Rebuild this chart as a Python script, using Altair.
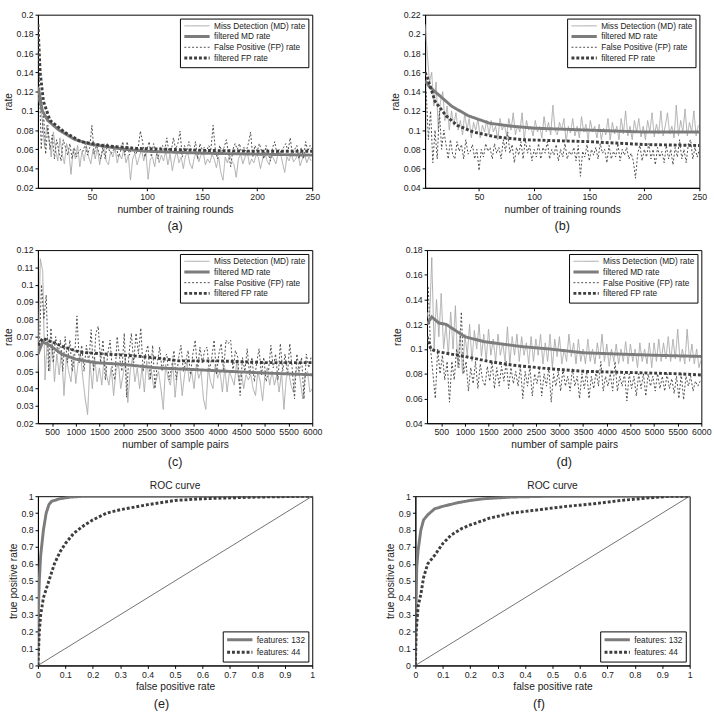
import altair as alt
import pandas as pd

FONT = "Liberation Sans"

# ---------------- series names / styles ----------------
RATE_NAMES = ["Miss Detection (MD) rate", "filtered MD rate",
              "False Positive (FP) rate", "filtered FP rate"]
RATE_COLORS = ["#a9a9a9", "#7c7c7c", "#4a4a4a", "#3e3e3e"]
RATE_WIDTHS = [1, 3, 1, 3]
RATE_DASHES = [[1, 0], [1, 0], [2, 2], [3, 2]]

ROC_NAMES = ["features: 132", "features: 44"]
ROC_COLORS = ["#7c7c7c", "#3e3e3e"]
ROC_WIDTHS = [3, 3]
ROC_DASHES = [[1, 0], [3, 2]]

# ---------------- panel (a) ----------------
a_md_x = list(range(1, 250, 2))
a_md_y = [0.115, 0.105, 0.09, 0.062, 0.085, 0.07, 0.052, 0.078, 0.06, 0.048,
          0.072, 0.055, 0.045, 0.066, 0.058, 0.034, 0.06, 0.05, 0.064, 0.042,
          0.058, 0.048, 0.064, 0.052, 0.045, 0.06, 0.05, 0.062, 0.044, 0.056,
          0.066, 0.048, 0.044, 0.058, 0.052, 0.062, 0.046, 0.055, 0.05, 0.06,
          0.046, 0.054, 0.028, 0.05, 0.056, 0.044, 0.052, 0.06, 0.048, 0.056,
          0.029, 0.05, 0.052, 0.042, 0.058, 0.046, 0.054, 0.048, 0.058, 0.044,
          0.055, 0.038, 0.05, 0.058, 0.046, 0.052, 0.04, 0.054, 0.056, 0.045,
          0.04, 0.052, 0.056, 0.047, 0.054, 0.058, 0.044, 0.05, 0.046, 0.055,
          0.05, 0.041, 0.052, 0.036, 0.028, 0.052, 0.046, 0.054, 0.048, 0.044,
          0.031, 0.05, 0.055, 0.045, 0.052, 0.058, 0.044, 0.05, 0.046, 0.054,
          0.052, 0.04, 0.05, 0.056, 0.048, 0.044, 0.054, 0.05, 0.045, 0.056,
          0.057, 0.046, 0.036, 0.052, 0.048, 0.056, 0.047, 0.05, 0.056, 0.043,
          0.05, 0.055, 0.046, 0.052, 0.048]
a_fp_x = list(range(2, 251, 2))
a_fp_y = [0.14, 0.06, 0.1, 0.055, 0.085, 0.06, 0.075, 0.05, 0.07, 0.058,
          0.048, 0.07, 0.062, 0.054, 0.066, 0.05, 0.062, 0.052, 0.058, 0.06,
          0.058, 0.066, 0.054, 0.062, 0.085, 0.055, 0.064, 0.058, 0.05, 0.062,
          0.05, 0.066, 0.058, 0.056, 0.06, 0.064, 0.052, 0.058, 0.068, 0.054,
          0.068, 0.054, 0.063, 0.058, 0.055, 0.062, 0.079, 0.068, 0.052, 0.06,
          0.068, 0.052, 0.066, 0.058, 0.05, 0.062, 0.064, 0.058, 0.072, 0.056,
          0.058, 0.072, 0.06, 0.066, 0.079, 0.052, 0.064, 0.058, 0.068, 0.06,
          0.056, 0.068, 0.05, 0.066, 0.06, 0.062, 0.058, 0.064, 0.06, 0.085,
          0.06, 0.05, 0.064, 0.058, 0.062, 0.07, 0.056, 0.042, 0.06, 0.066,
          0.06, 0.066, 0.055, 0.062, 0.058, 0.066, 0.078, 0.052, 0.064, 0.058,
          0.066, 0.058, 0.05, 0.064, 0.056, 0.048, 0.062, 0.068, 0.054, 0.06,
          0.056, 0.062, 0.066, 0.058, 0.072, 0.054, 0.06, 0.064, 0.05, 0.062,
          0.05, 0.068, 0.058, 0.064, 0.06]
a_fmd_x = [1, 2, 5, 10, 20, 35, 50, 80, 100, 150, 200, 250]
a_fmd_y = [0.125, 0.12, 0.1, 0.09, 0.08, 0.07, 0.065, 0.06, 0.058, 0.056, 0.055, 0.054]
a_ffp_x = [1, 3, 6, 12, 25, 40, 60, 90, 120, 150, 200, 250]
a_ffp_y = [0.19, 0.14, 0.11, 0.09, 0.078, 0.068, 0.064, 0.061, 0.06, 0.059, 0.058, 0.058]

# ---------------- panel (b) ----------------
b_md_x = list(range(1, 250, 2))
b_md_y = [0.21, 0.18, 0.15, 0.16, 0.125, 0.15, 0.1, 0.13, 0.14, 0.11,
          0.125, 0.1, 0.12, 0.105, 0.118, 0.1, 0.11, 0.095, 0.118, 0.1,
          0.112, 0.092, 0.108, 0.1, 0.112, 0.092, 0.105, 0.098, 0.11, 0.095,
          0.11, 0.098, 0.104, 0.09, 0.112, 0.1, 0.106, 0.094, 0.112, 0.1,
          0.118, 0.095, 0.105, 0.098, 0.118, 0.09, 0.11, 0.1, 0.104, 0.094,
          0.11, 0.098, 0.104, 0.092, 0.114, 0.098, 0.108, 0.095, 0.126, 0.1,
          0.095, 0.108, 0.1, 0.112, 0.088, 0.104, 0.097, 0.112, 0.094, 0.104,
          0.092, 0.114, 0.098, 0.106, 0.09, 0.11, 0.098, 0.104, 0.092, 0.106,
          0.09, 0.102, 0.095, 0.112, 0.09, 0.108, 0.096, 0.104, 0.09, 0.112,
          0.096, 0.12, 0.094, 0.104, 0.09, 0.11, 0.098, 0.112, 0.093, 0.104,
          0.09, 0.11, 0.098, 0.118, 0.093, 0.106, 0.096, 0.12, 0.094, 0.104,
          0.118, 0.096, 0.104, 0.092, 0.126, 0.094, 0.11, 0.098, 0.122, 0.094,
          0.108, 0.098, 0.12, 0.094, 0.105]
b_fp_x = list(range(2, 251, 2))
b_fp_y = [0.14, 0.09, 0.12, 0.066, 0.1, 0.07, 0.12, 0.08, 0.1, 0.085,
          0.07, 0.09, 0.075, 0.07, 0.088, 0.078, 0.085, 0.07, 0.09, 0.075,
          0.078, 0.085, 0.07, 0.08, 0.058, 0.08, 0.072, 0.086, 0.078, 0.082,
          0.07, 0.086, 0.076, 0.082, 0.07, 0.09, 0.078, 0.098, 0.076, 0.085,
          0.066, 0.082, 0.074, 0.088, 0.07, 0.09, 0.076, 0.084, 0.068, 0.08,
          0.072, 0.086, 0.07, 0.082, 0.076, 0.088, 0.07, 0.08, 0.074, 0.085,
          0.068, 0.08, 0.072, 0.086, 0.07, 0.078, 0.074, 0.082, 0.068, 0.084,
          0.052, 0.078, 0.072, 0.085, 0.068, 0.08, 0.074, 0.082, 0.07, 0.086,
          0.076, 0.08, 0.066, 0.084, 0.07, 0.078, 0.072, 0.086, 0.068, 0.08,
          0.074, 0.082, 0.07, 0.076, 0.068, 0.05, 0.076, 0.084, 0.068, 0.08,
          0.072, 0.086, 0.07, 0.08, 0.064, 0.082, 0.072, 0.078, 0.066, 0.084,
          0.07, 0.08, 0.064, 0.082, 0.072, 0.09, 0.07, 0.08, 0.066, 0.086,
          0.09, 0.07, 0.082, 0.072, 0.08]
b_fmd_x = [1, 2, 5, 15, 25, 40, 60, 80, 100, 150, 200, 250]
b_fmd_y = [0.15, 0.15, 0.145, 0.135, 0.125, 0.115, 0.107, 0.104, 0.102, 0.1, 0.098, 0.098]
b_ffp_x = [1, 3, 10, 20, 30, 45, 65, 90, 120, 150, 200, 250]
b_ffp_y = [0.16, 0.155, 0.13, 0.115, 0.105, 0.098, 0.093, 0.09, 0.089, 0.088, 0.085, 0.084]

# ---------------- panel (c) ----------------
c_md_x = list(range(200, 6001, 50))
c_md_y = [0.05, 0.115, 0.108, 0.045, 0.07, 0.05, 0.066, 0.044, 0.06, 0.048,
          0.062, 0.036, 0.058, 0.05, 0.044, 0.06, 0.043, 0.055, 0.06, 0.046,
          0.034, 0.025, 0.055, 0.04, 0.058, 0.044, 0.052, 0.042, 0.058, 0.048,
          0.042, 0.052, 0.036, 0.05, 0.055, 0.04, 0.048, 0.058, 0.032, 0.05,
          0.058, 0.044, 0.052, 0.04, 0.052, 0.038, 0.056, 0.045, 0.05, 0.04,
          0.045, 0.05, 0.04, 0.028, 0.054, 0.046, 0.042, 0.055, 0.035, 0.05,
          0.052, 0.036, 0.048, 0.056, 0.044, 0.05, 0.04, 0.054, 0.046, 0.05,
          0.034, 0.028, 0.052, 0.044, 0.04, 0.054, 0.046, 0.05, 0.038, 0.052,
          0.038, 0.05, 0.046, 0.042, 0.055, 0.044, 0.05, 0.04, 0.048, 0.045,
          0.048, 0.04, 0.036, 0.05, 0.044, 0.033, 0.048, 0.052, 0.042, 0.05,
          0.042, 0.048, 0.038, 0.05, 0.028, 0.046, 0.05, 0.042, 0.038, 0.05,
          0.052, 0.044, 0.034, 0.048, 0.05, 0.038, 0.04]
c_fp_x = list(range(225, 5976, 50))
c_fp_y = [0.06, 0.1, 0.08, 0.094, 0.05, 0.075, 0.055, 0.07, 0.06, 0.068,
          0.05, 0.07, 0.055, 0.068, 0.05, 0.058, 0.082, 0.055, 0.065, 0.05,
          0.065, 0.055, 0.074, 0.05, 0.072, 0.076, 0.055, 0.068, 0.045, 0.06,
          0.068, 0.05, 0.045, 0.07, 0.058, 0.05, 0.072, 0.035, 0.06, 0.072,
          0.055, 0.072, 0.06, 0.075, 0.05, 0.06, 0.065, 0.045, 0.065, 0.04,
          0.055, 0.064, 0.05, 0.058, 0.06, 0.045, 0.052, 0.062, 0.045, 0.058,
          0.065, 0.05, 0.056, 0.062, 0.048, 0.06, 0.068, 0.05, 0.064, 0.055,
          0.062, 0.064, 0.05, 0.058, 0.068, 0.048, 0.06, 0.066, 0.05, 0.068,
          0.066, 0.068, 0.05, 0.062, 0.058, 0.036, 0.058, 0.05, 0.063, 0.048,
          0.058, 0.044, 0.055, 0.063, 0.048, 0.058, 0.044, 0.05, 0.065, 0.052,
          0.06, 0.045, 0.066, 0.05, 0.06, 0.048, 0.066, 0.052, 0.034, 0.06,
          0.05, 0.058, 0.034, 0.06, 0.052, 0.058]
c_fmd_x = [200, 300, 450, 700, 1000, 1400, 2000, 2700, 3500, 4200, 5000, 6000]
c_fmd_y = [0.06, 0.067, 0.065, 0.06, 0.057, 0.055, 0.054, 0.052, 0.051, 0.05, 0.049, 0.048]
c_ffp_x = [200, 300, 500, 750, 1100, 1600, 2200, 2600, 3200, 4000, 5000, 6000]
c_ffp_y = [0.065, 0.069, 0.067, 0.064, 0.061, 0.06, 0.059, 0.058, 0.056, 0.056, 0.055, 0.055]

# ---------------- panel (d) ----------------
d_md_x = list(range(200, 6001, 50))
d_md_y = [0.13, 0.12, 0.174, 0.1, 0.14, 0.11, 0.145, 0.1, 0.12, 0.095,
          0.13, 0.1, 0.135, 0.085, 0.115, 0.08, 0.112, 0.095, 0.12, 0.09,
          0.115, 0.1, 0.12, 0.094, 0.112, 0.09, 0.116, 0.095, 0.108, 0.09,
          0.112, 0.095, 0.105, 0.09, 0.118, 0.088, 0.11, 0.095, 0.112, 0.09,
          0.11, 0.095, 0.105, 0.088, 0.11, 0.09, 0.108, 0.095, 0.112, 0.088,
          0.105, 0.09, 0.112, 0.085, 0.108, 0.094, 0.11, 0.088, 0.1, 0.09,
          0.112, 0.094, 0.105, 0.088, 0.108, 0.09, 0.1, 0.088, 0.108, 0.09,
          0.1, 0.088, 0.105, 0.092, 0.112, 0.09, 0.104, 0.086, 0.1, 0.09,
          0.104, 0.088, 0.1, 0.09, 0.106, 0.088, 0.104, 0.09, 0.1, 0.085,
          0.105, 0.09, 0.1, 0.088, 0.105, 0.085, 0.105, 0.09, 0.108, 0.09,
          0.105, 0.092, 0.11, 0.09, 0.108, 0.092, 0.116, 0.09, 0.1, 0.088,
          0.116, 0.09, 0.104, 0.088, 0.1, 0.085, 0.092]
d_fp_x = list(range(225, 5976, 50))
d_fp_y = [0.15, 0.1, 0.08, 0.06, 0.1, 0.08, 0.095, 0.075, 0.09, 0.057,
          0.09, 0.075, 0.1, 0.085, 0.13, 0.08, 0.09, 0.066, 0.085, 0.072,
          0.09, 0.068, 0.088, 0.075, 0.07, 0.086, 0.074, 0.09, 0.068, 0.085,
          0.07, 0.086, 0.074, 0.09, 0.068, 0.085, 0.072, 0.082, 0.07, 0.086,
          0.06, 0.082, 0.07, 0.086, 0.062, 0.08, 0.072, 0.084, 0.062, 0.08,
          0.07, 0.085, 0.057, 0.08, 0.07, 0.082, 0.066, 0.084, 0.07, 0.078,
          0.066, 0.084, 0.07, 0.078, 0.06, 0.08, 0.068, 0.082, 0.06, 0.078,
          0.068, 0.082, 0.07, 0.09, 0.066, 0.078, 0.07, 0.08, 0.066, 0.09,
          0.066, 0.078, 0.07, 0.08, 0.058, 0.08, 0.068, 0.078, 0.062, 0.08,
          0.068, 0.08, 0.062, 0.08, 0.07, 0.078, 0.066, 0.08, 0.068, 0.078,
          0.066, 0.08, 0.068, 0.076, 0.064, 0.078, 0.06, 0.08, 0.059, 0.078,
          0.07, 0.078, 0.066, 0.074, 0.07, 0.074]
d_fmd_x = [200, 300, 450, 600, 800, 1000, 1400, 1800, 2200, 2800, 3500, 4200, 5000, 6000]
d_fmd_y = [0.12, 0.126, 0.121, 0.12, 0.115, 0.11, 0.106, 0.104, 0.102, 0.1, 0.097, 0.096, 0.095, 0.094]
d_ffp_x = [200, 280, 400, 700, 1000, 1500, 2000, 2800, 3500, 4500, 5500, 6000]
d_ffp_y = [0.11, 0.1, 0.098, 0.096, 0.094, 0.09, 0.087, 0.084, 0.082, 0.081, 0.08, 0.079]

# ---------------- panel (e) ROC ----------------
e132_x = [0, 0.002, 0.005, 0.01, 0.02, 0.03, 0.04, 0.05, 0.08, 0.12, 0.17, 1.0]
e132_y = [0, 0.35, 0.5, 0.65, 0.8, 0.9, 0.95, 0.97, 0.985, 0.995, 1.0, 1.0]
e44_x = [0, 0.005, 0.01, 0.02, 0.04, 0.06, 0.08, 0.1, 0.13, 0.17, 0.2, 0.25,
         0.3, 0.4, 0.5, 0.6, 0.7, 0.8, 1.0]
e44_y = [0, 0.2, 0.3, 0.4, 0.5, 0.6, 0.67, 0.72, 0.78, 0.83, 0.86, 0.9,
         0.92, 0.95, 0.975, 0.985, 0.99, 0.995, 1.0]

# ---------------- panel (f) ROC ----------------
f132_x = [0, 0.002, 0.005, 0.01, 0.02, 0.03, 0.045, 0.07, 0.1, 0.15, 0.2, 0.25, 0.35, 0.5, 1.0]
f132_y = [0, 0.3, 0.58, 0.68, 0.8, 0.86, 0.89, 0.925, 0.94, 0.96, 0.975, 0.985, 0.995, 1.0, 1.0]
f44_x = [0, 0.003, 0.01, 0.02, 0.03, 0.045, 0.07, 0.1, 0.13, 0.17, 0.2, 0.27,
         0.35, 0.45, 0.55, 0.65, 0.75, 0.85, 0.93, 1.0]
f44_y = [0, 0.2, 0.35, 0.42, 0.52, 0.6, 0.65, 0.72, 0.77, 0.81, 0.83, 0.87,
         0.9, 0.92, 0.94, 0.955, 0.975, 0.99, 1.0, 1.0]

diag_x = [0, 1]
diag_y = [0, 1]

PW = 282


def frame(pairs):
    rows = []
    for name, xs, ys in pairs:
        for i, (xv, yv) in enumerate(zip(xs, ys)):
            rows.append({"x": xv, "y": yv, "series": name, "i": i})
    return pd.DataFrame(rows)


def make_legend(orient):
    return alt.Legend(
        title=None, orient=orient, offset=4, padding=3,
        strokeColor="black", fillColor="white",
        symbolType="M-3.25,0H3.25", symbolSize=64, symbolOffset=9,
        labelOffset=12, labelFont=FONT, labelFontSize=8.5, labelColor="#222",
        rowPadding=0, labelLimit=300,
    )


def series_enc(names, colors, widths, dashes, orient):
    leg = make_legend(orient)
    return dict(
        color=alt.Color("series:N", scale=alt.Scale(domain=names, range=colors), legend=leg),
        strokeWidth=alt.StrokeWidth("series:N", scale=alt.Scale(type="ordinal", domain=names, range=widths), legend=leg),
        strokeDash=alt.StrokeDash("series:N", scale=alt.Scale(domain=names, range=dashes), legend=leg),
    )


def rate_panel(raw, filt, xdom, xvals, ydom, yvals, xtitle, label):
    xe = alt.X("x:Q", scale=alt.Scale(domain=xdom, nice=False, zero=False),
               axis=alt.Axis(values=xvals, format="d", title=xtitle))
    ye = alt.Y("y:Q", scale=alt.Scale(domain=ydom, nice=False, zero=False),
               axis=alt.Axis(values=yvals, format=".2~f", title="rate"))
    enc = series_enc(RATE_NAMES, RATE_COLORS, RATE_WIDTHS, RATE_DASHES, "top-right")
    l1 = alt.Chart(frame(raw)).mark_line(clip=True).encode(x=xe, y=ye, order="i:Q", **enc)
    l2 = alt.Chart(frame(filt)).mark_line(clip=True).encode(x=xe, y=ye, order="i:Q", **enc)
    return alt.layer(l1, l2).properties(
        width=PW, height=178,
        title=alt.TitleParams(label, orient="bottom", fontSize=13, fontWeight="normal",
                              font=FONT, color="#222", offset=6, frame="group"),
    )


def roc_panel(c132, c44, label):
    ticks = [round(v * 0.1, 1) for v in range(11)]
    xe = alt.X("x:Q", scale=alt.Scale(domain=[0, 1], nice=False),
               axis=alt.Axis(values=ticks, format=".1~f", title="false positive rate"))
    ye = alt.Y("y:Q", scale=alt.Scale(domain=[0, 1], nice=False),
               axis=alt.Axis(values=ticks, format=".1~f", title="true positive rate"))
    diag = alt.Chart(pd.DataFrame({"x": diag_x, "y": diag_y})).mark_line(
        color="#707070", strokeWidth=1).encode(x=xe, y=ye)
    enc = series_enc(ROC_NAMES, ROC_COLORS, ROC_WIDTHS, ROC_DASHES, "bottom-right")
    curves = alt.Chart(frame([(ROC_NAMES[0],) + c132, (ROC_NAMES[1],) + c44])).mark_line(
        clip=True).encode(x=xe, y=ye, order="i:Q", **enc)
    inner = alt.layer(diag, curves).properties(
        width=PW, height=174,
        title=alt.TitleParams("ROC curve", fontSize=10.5, fontWeight="normal", font=FONT,
                              color="#222", offset=1, frame="group"),
    )
    return alt.vconcat(inner).properties(
        title=alt.TitleParams(label, orient="bottom", fontSize=13, fontWeight="normal",
                              font=FONT, color="#222", offset=6, anchor="middle"),
    )


def indep(ch):
    return ch.resolve_scale(color="independent", strokeWidth="independent",
                            strokeDash="independent", x="independent", y="independent"
                            ).resolve_legend(color="independent", strokeWidth="independent",
                                             strokeDash="independent")


yv_a = [0.02, 0.04, 0.06, 0.08, 0.1, 0.12, 0.14, 0.16, 0.18, 0.2]
yv_b = [0.04, 0.06, 0.08, 0.1, 0.12, 0.14, 0.16, 0.18, 0.2, 0.22]
yv_c = [0.02, 0.03, 0.04, 0.05, 0.06, 0.07, 0.08, 0.09, 0.1, 0.11, 0.12]
yv_d = [0.04, 0.06, 0.08, 0.1, 0.12, 0.14, 0.16, 0.18]
xv_ab = [50, 100, 150, 200, 250]
xv_cd = [500, 1000, 1500, 2000, 2500, 3000, 3500, 4000, 4500, 5000, 5500, 6000]

pa = rate_panel(
    [(RATE_NAMES[0], a_md_x, a_md_y), (RATE_NAMES[2], a_fp_x, a_fp_y)],
    [(RATE_NAMES[1], a_fmd_x, a_fmd_y), (RATE_NAMES[3], a_ffp_x, a_ffp_y)],
    [1, 250], xv_ab, [0.02, 0.2], yv_a, "number of training rounds", "(a)")
pb = rate_panel(
    [(RATE_NAMES[0], b_md_x, b_md_y), (RATE_NAMES[2], b_fp_x, b_fp_y)],
    [(RATE_NAMES[1], b_fmd_x, b_fmd_y), (RATE_NAMES[3], b_ffp_x, b_ffp_y)],
    [1, 250], xv_ab, [0.04, 0.22], yv_b, "number of training rounds", "(b)")
pc = rate_panel(
    [(RATE_NAMES[0], c_md_x, c_md_y), (RATE_NAMES[2], c_fp_x, c_fp_y)],
    [(RATE_NAMES[1], c_fmd_x, c_fmd_y), (RATE_NAMES[3], c_ffp_x, c_ffp_y)],
    [200, 6000], xv_cd, [0.02, 0.12], yv_c, "number of sample pairs", "(c)")
pd_ = rate_panel(
    [(RATE_NAMES[0], d_md_x, d_md_y), (RATE_NAMES[2], d_fp_x, d_fp_y)],
    [(RATE_NAMES[1], d_fmd_x, d_fmd_y), (RATE_NAMES[3], d_ffp_x, d_ffp_y)],
    [200, 6000], xv_cd, [0.04, 0.18], yv_d, "number of sample pairs", "(d)")
pe = indep(roc_panel((e132_x, e132_y), (e44_x, e44_y), "(e)"))
pf = indep(roc_panel((f132_x, f132_y), (f44_x, f44_y), "(f)"))

row1 = indep(alt.hconcat(pa, pb, spacing=70))
row2 = indep(alt.hconcat(pc, pd_, spacing=70))
row3 = indep(alt.hconcat(pe, pf, spacing=70))

chart = indep(alt.vconcat(row1, row2, row3, spacing=12)).configure(
    font=FONT, padding={"left": 2, "top": 0, "right": 2, "bottom": 0}
).configure_view(
    stroke="black", strokeWidth=1
).configure_axis(
    labelFont=FONT, titleFont=FONT, labelFontSize=9, titleFontSize=10.5,
    titleFontWeight="normal", labelColor="#222", titleColor="#222",
    domainColor="black", tickColor="black", tickSize=3, labelPadding=2,
    titlePadding=3, grid=False, labelFlush=False, labelOverlap=False,
).configure_concat(spacing=12)

chart.save("out.html", embed_options={"renderer": "svg", "actions": False})
